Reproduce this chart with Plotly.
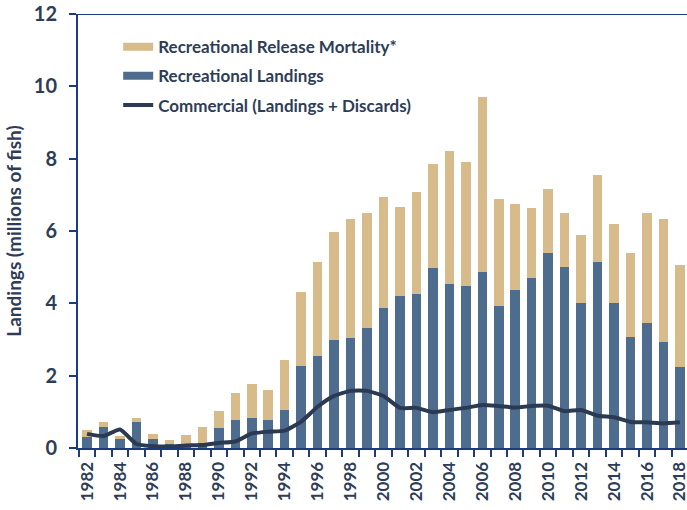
import plotly.graph_objects as go

years = list(range(1982, 2019))
rec_landings = [0.30, 0.59, 0.26, 0.73, 0.26, 0.12, 0.03, 0.14, 0.56, 0.77,
                0.84, 0.77, 1.05, 2.28, 2.54, 2.99, 3.05, 3.33, 3.88, 4.21,
                4.27, 4.99, 4.54, 4.49, 4.87, 3.93, 4.37, 4.69, 5.40, 5.00,
                4.02, 5.15, 4.02, 3.08, 3.47, 2.94, 2.24]
rec_total = [0.51, 0.72, 0.34, 0.82, 0.39, 0.23, 0.36, 0.58, 1.02, 1.51,
             1.78, 1.60, 2.42, 4.30, 5.15, 5.97, 6.33, 6.49, 6.95, 6.67,
             7.07, 7.85, 8.22, 7.91, 9.70, 6.88, 6.76, 6.64, 7.15, 6.49,
             5.88, 7.55, 6.18, 5.40, 6.49, 6.33, 5.06]
release_mortality = [round(t - l, 2) for t, l in zip(rec_total, rec_landings)]
commercial = [0.39, 0.33, 0.51, 0.11, 0.05, 0.04, 0.07, 0.08, 0.14, 0.18,
              0.40, 0.45, 0.48, 0.73, 1.14, 1.44, 1.58, 1.58, 1.44, 1.11,
              1.11, 0.99, 1.05, 1.11, 1.19, 1.16, 1.12, 1.16, 1.17, 1.02,
              1.05, 0.89, 0.85, 0.72, 0.71, 0.68, 0.71]
tick_text = [str(y) if y % 2 == 0 else "" for y in years]
cats = [str(y) for y in years]

TAN = "#d8bb8b"
BLUE = "#4e6c8e"
LINE = "#2b3a52"
TEXT = "#2e3d57"
AXIS = "#1c3a80"
FONT = "Lato"

fig = go.Figure()
fig.add_trace(go.Bar(x=cats, y=rec_landings, name="Recreational Landings",
                     marker=dict(color=BLUE, line=dict(width=0)), showlegend=False))
fig.add_trace(go.Bar(x=cats, y=release_mortality, name="Recreational Release Mortality*",
                     marker=dict(color=TAN, line=dict(width=0)), showlegend=False))
fig.add_trace(go.Scatter(x=cats, y=commercial, name="Commercial (Landings + Discards)",
                         mode="lines", line=dict(color=LINE, width=4, shape="spline", smoothing=0.5),
                         legendrank=3, legendgroup="c"))
# legend entries for bars (wide rectangles)
fig.add_trace(go.Scatter(x=[None], y=[None], mode="lines", name="Recreational Release Mortality*",
                         line=dict(color=TAN, width=8), legendrank=1, legendgroup="a"))
fig.add_trace(go.Scatter(x=[None], y=[None], mode="lines", name="Recreational Landings",
                         line=dict(color=BLUE, width=8), legendrank=2, legendgroup="b"))

fig.update_layout(
    width=687, height=510,
    margin=dict(l=78, r=0, t=14, b=62),
    barmode="stack", bargap=0.42,
    plot_bgcolor="white", paper_bgcolor="white",
    font=dict(family=FONT, color=TEXT, size=16, weight="bold"),
    showlegend=True,
    legend=dict(x=0.066, y=0.965, xanchor="left", yanchor="top",
                bgcolor="rgba(0,0,0,0)", font=dict(size=17, color=TEXT, family=FONT, weight="bold"),
                traceorder="grouped", tracegroupgap=4, itemwidth=30),
    xaxis=dict(type="category", tickmode="array", tickvals=cats, ticktext=tick_text,
               tickson="boundaries", ticks="outside", ticklen=7, tickcolor=AXIS, tickwidth=1.5,
               tickangle=-90, tickfont=dict(size=17, color=TEXT, family=FONT, weight="bold"),
               ticklabelstandoff=5,
               showline=True, linecolor=AXIS, linewidth=2, showgrid=False,
               range=[-0.55, 36.43], automargin=False),
    yaxis=dict(range=[0, 12], dtick=2, ticks="outside", ticklen=7, tickcolor=AXIS, tickwidth=1.5,
               tickfont=dict(size=20, color=TEXT, family=FONT, weight="bold"),
               ticklabelstandoff=8,
               showline=True, linecolor=AXIS, linewidth=2, showgrid=False, zeroline=False,
               automargin=False,
               title=dict(text="Landings (millions of fish)", standoff=7,
                          font=dict(size=19, color=TEXT, family=FONT, weight="bold"))),
)
fig.add_shape(type="line", xref="paper", yref="y", x0=0, x1=1, y0=12, y1=12,
              line=dict(color=AXIS, width=2))

fig.write_html("out.html", config={"displayModeBar": False},
               post_script="document.body.style.margin='0';")
